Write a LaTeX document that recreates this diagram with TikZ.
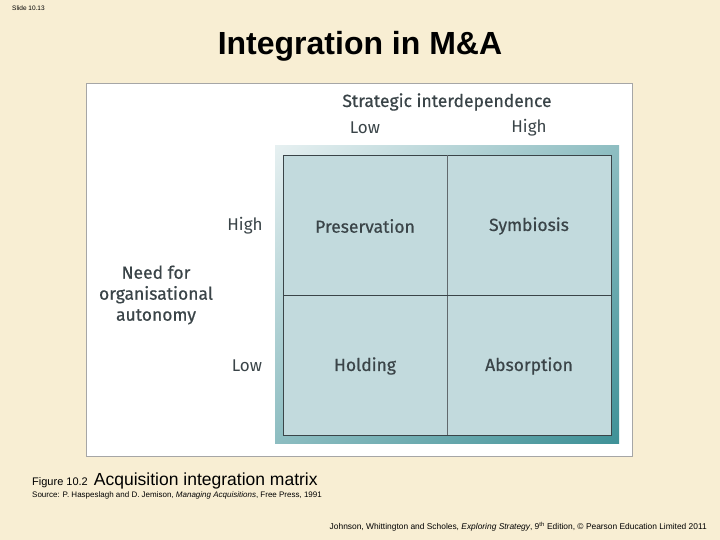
\documentclass[tikz,border=0pt]{standalone}
\usetikzlibrary{shadings}
\usepackage{fontspec}
\setmainfont{Liberation Sans}
\newfontfamily\din{Fira Sans}
\definecolor{bg}{HTML}{F8EED3}
\definecolor{cell}{HTML}{C2DADD}
\definecolor{txt}{HTML}{3A4448}
\definecolor{tl}{HTML}{E6F0F1}
\definecolor{mid}{HTML}{8DBDC1}
\definecolor{br}{HTML}{3F9197}
\tikzset{lab/.style={font=\din\fontsize{17}{20}\selectfont,text=txt,inner sep=0pt},
 cl/.style={font=\din\fontsize{17.5}{21}\selectfont\addfontfeature{FakeBold=0.6},text=txt,inner sep=0pt}}
\begin{document}
\begin{tikzpicture}[x=1pt,y=-1pt]
\fill[bg] (0,0) rectangle (720,540);
\useasboundingbox (0,0) rectangle (720,540);
\node[font=\fontsize{6.5}{7}\selectfont,anchor=west,inner sep=0pt] (sl) at (12,8) {Slide 10.13};
\node[font=\fontsize{32}{36}\selectfont\bfseries,inner sep=0pt] (title) at (360,46) {Integration in M\&A};
\draw[gray!70,fill=white] (86,83) rectangle (632,456);
\shade[upper left=tl,upper right=mid,lower left=mid,lower right=br] (275,146) rectangle (619,443);
\draw[txt,fill=cell,line width=0.8pt] (283,155) rectangle (611,435);
\draw[txt!80,line width=0.5pt] (447,155) -- (447,435);
\draw[txt,line width=0.7pt] (283,295) -- (611,295);
\node[cl] (p) at (365,226) {Preservation};
\node[cl] (s) at (529,226) {Symbiosis};
\node[cl] (h) at (365,366) {Holding};
\node[cl] (a) at (529,366) {Absorption};
\node[cl] (si) at (447,102) {Strategic interdependence};
\node[lab] (lo) at (365,128) {Low};
\node[lab] (hi) at (529,128) {High};
\node[lab] (vh) at (245,226) {High};
\node[lab] (vl) at (247,366) {Low};
\node[cl,align=center,font=\din\fontsize{17.5}{21}\selectfont\addfontfeature{FakeBold=0.6}] (nf) at (156,295) {Need for\\organisational\\autonomy};
\node[anchor=base west,inner sep=0pt,font=\fontsize{11}{12}\selectfont] (fig) at (32,485) {Figure 10.2\ \ \fontsize{17.5}{20}\selectfont Acquisition integration matrix};
\node[anchor=base west,inner sep=0pt,font=\fontsize{8}{9}\selectfont] (src) at (32,497) {Source: P. Haspeslagh and D. Jemison, \emph{Managing Acquisitions}, Free Press, 1991};
\node[anchor=base east,inner sep=0pt,font=\fontsize{8.4}{9}\selectfont] (cp) at (707,529) {Johnson, Whittington and Scholes, \emph{Exploring Strategy}, 9\textsuperscript{th} Edition, © Pearson Education Limited 2011};
\end{tikzpicture}
\end{document}
